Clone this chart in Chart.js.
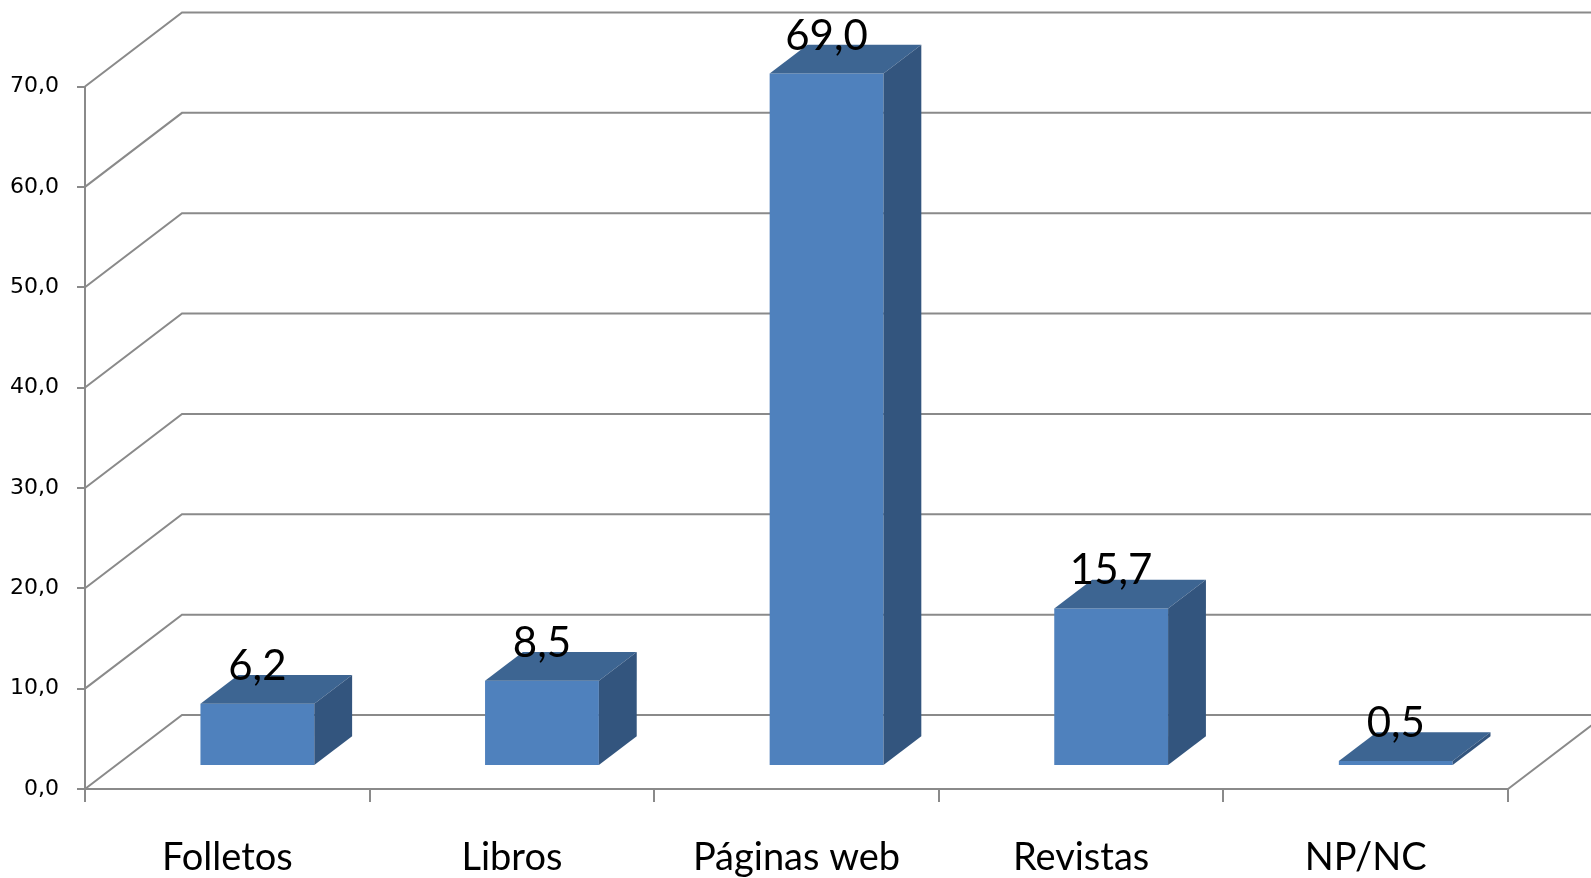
<!DOCTYPE html>
<html lang="es">
<head>
<meta charset="UTF-8">
<title>Fuentes de información</title>
<style>
  body { margin: 0; background: #fff; overflow: hidden; }
  canvas { display: block; }
</style>
<script src="https://cdn.jsdelivr.net/npm/chart.js"></script>
</head>
<body>
<canvas id="chart" width="1591" height="878"></canvas>
<script>
const categories = ['Folletos', 'Libros', 'Páginas web', 'Revistas', 'NP/NC'];
const values = [6.2, 8.5, 69.0, 15.7, 0.5];
const yTicks = [0, 10, 20, 30, 40, 50, 60, 70];

// fake 3D: how far the back wall sits behind the front plane (px)
const depthX = 97, depthY = -74;
const barFront = 0.31, barBack = 0.70;   // bar position inside the floor depth
const gridColor = '#8a8a8a';

function fmt(v) {
    return v.toFixed(1).replace('.', ',');
}

const wall3d = {
    id: 'wall3d',
    beforeDatasetsDraw(chart) {
        const ctx = chart.ctx, area = chart.chartArea, y = chart.scales.y;
        ctx.save();
        ctx.strokeStyle = gridColor;
        ctx.lineWidth = 2;
        ctx.beginPath();
        yTicks.forEach(t => {
            const py = y.getPixelForValue(t);
            ctx.moveTo(area.left, py);
            ctx.lineTo(area.left + depthX, py + depthY);
            ctx.lineTo(area.right + depthX, py + depthY);
        });
        ctx.moveTo(area.right, area.bottom);
        ctx.lineTo(area.right + depthX, area.bottom + depthY);
        ctx.stroke();
        ctx.restore();
        // push the bars back into the floor
        ctx.save();
        ctx.translate(depthX * barFront, depthY * barFront);
    },
    afterDatasetsDraw(chart) {
        const ctx = chart.ctx;
        const bx = depthX * (barBack - barFront), by = depthY * (barBack - barFront);
        chart.getDatasetMeta(0).data.forEach((bar, i) => {
            const { x, y, base, width } = bar.getProps(['x', 'y', 'base', 'width'], true);
            const l = x - width / 2, r = x + width / 2;
            // top
            ctx.fillStyle = '#3d6592';
            ctx.beginPath();
            ctx.moveTo(l, y);
            ctx.lineTo(r, y);
            ctx.lineTo(r + bx, y + by);
            ctx.lineTo(l + bx, y + by);
            ctx.closePath();
            ctx.fill();
            // side
            ctx.fillStyle = '#33557e';
            ctx.beginPath();
            ctx.moveTo(r, y);
            ctx.lineTo(r + bx, y + by);
            ctx.lineTo(r + bx, base + by);
            ctx.lineTo(r, base);
            ctx.closePath();
            ctx.fill();
            // value
            ctx.fillStyle = '#000';
            ctx.font = '42px Lato';
            ctx.textAlign = 'center';
            ctx.textBaseline = 'alphabetic';
            ctx.fillText(fmt(values[i]), x, y - 24);
        });
        ctx.restore();
    }
};

new Chart(document.getElementById('chart'), {
    type: 'bar',
    data: {
        labels: categories,
        datasets: [{
            data: values,
            backgroundColor: '#4f81bd',
            borderWidth: 0,
            barPercentage: 0.4,
            categoryPercentage: 1,
            clip: false
        }]
    },
    options: {
        responsive: false,
        animation: false,
        layout: { padding: { top: 86.5, right: 83, bottom: 0, left: 0 } },
        plugins: { legend: { display: false }, tooltip: { enabled: false } },
        scales: {
            x: {
                offset: true,
                grid: { offset: true, drawOnChartArea: false, tickLength: 13, color: gridColor, lineWidth: 2 },
                border: { color: gridColor, width: 2 },
                ticks: { color: '#000', font: { family: 'Lato', size: 38 }, padding: 33, maxRotation: 0 },
                afterFit(scale) { scale.height = 89; }
            },
            y: {
                min: 0,
                max: 70,
                afterBuildTicks(scale) { scale.ticks = yTicks.map(v => ({ value: v })); },
                grid: { drawOnChartArea: false, tickLength: 8, color: gridColor, lineWidth: 2 },
                border: { color: gridColor, width: 2 },
                ticks: {
                    color: '#000',
                    font: { family: 'DejaVu Sans', size: 22 },
                    padding: 18,
                    callback: v => fmt(v)
                },
                afterFit(scale) { scale.width = 85; }
            }
        }
    },
    plugins: [wall3d]
});
</script>
</body>
</html>
